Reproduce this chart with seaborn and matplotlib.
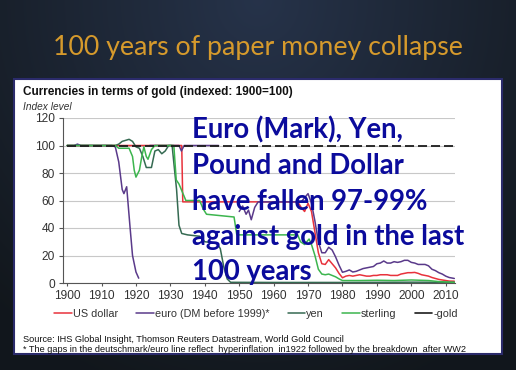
import numpy as np
import pandas as pd
import matplotlib
matplotlib.use("Agg")
import matplotlib.pyplot as plt
import seaborn as sns
from matplotlib.patches import Rectangle
from matplotlib.lines import Line2D

# ---------------- text ----------------
slide_title = "100 years of paper money collapse"
chart_title = "Currencies in terms of gold (indexed: 1900=100)"
y_caption = "Index level"
overlay_lines = ["Euro (Mark), Yen,", "Pound and Dollar", "have fallen 97-99%",
                 "against gold in the last", "100 years"]
source_lines = ["Source: IHS Global Insight, Thomson Reuters Datastream, World Gold Council",
                "* The gaps in the deutschmark/euro line reflect  hyperinflation  in1922 followed by the breakdown  after WW2"]
series_names = ["US dollar", "euro (DM before 1999)*", "yen", "sterling", "gold"]
legend_labels = ["US dollar", "euro (DM before 1999)*", "yen", "sterling", "-gold"]
x_ticks = list(range(1900, 2011, 10))
y_ticks = [0, 20, 40, 60, 80, 100, 120]

# ---------------- data ----------------
usd_years = [1900, 1910, 1920, 1930, 1933.3, 1933.6, 1950, 1967, 1968, 1969, 1970, 1971,
             1972, 1973, 1974, 1975, 1976, 1977, 1978, 1979, 1980, 1981, 1982, 1983, 1984,
             1985, 1986, 1987, 1988, 1989, 1990, 1991, 1992, 1993, 1994, 1995, 1996, 1997,
             1998, 1999, 2000, 2001, 2002, 2003, 2004, 2005, 2006, 2007, 2008, 2009, 2010,
             2011, 2012.5]
usd_values = [100, 100, 100, 100, 100, 59, 59, 59, 55, 52, 58, 52,
              37, 22, 14, 13.5, 17, 14, 11, 7, 3.8, 5, 5.5, 5, 5.5,
              6, 5.5, 5, 5, 5.5, 5.5, 6, 6, 6, 5.5, 5.5, 5.5, 6.5,
              7, 7.5, 7.5, 7.7, 7, 6, 5.5, 5, 4, 3.3, 2.6, 2.2, 1.8,
              1.4, 1.3]

euro_years = [1900, 1902, 1903, 1904, 1913, 1914, 1915, 1916, 1916.5, 1917.3, 1918.3, 1919,
              1920, 1920.8, 1922,
              1924, 1932.5, 1933.2, 1934, 1944, 1947,
              1950, 1951, 1952, 1952.7, 1953.5, 1954.5, 1955.5, 1968, 1969, 1970, 1971, 1972,
              1973, 1974, 1975, 1976, 1977, 1978, 1979, 1980, 1981, 1982, 1983, 1984, 1985,
              1986, 1987, 1988, 1989, 1990, 1991, 1992, 1993, 1994, 1995, 1996, 1997, 1998,
              1999, 2000, 2001, 2002, 2003, 2004, 2005, 2006, 2007, 2008, 2009, 2010, 2011,
              2012.5]
euro_values = [100, 100, 101, 100, 100, 99, 88, 68, 65, 70, 40, 20,
               8, 3.5, np.nan,
               100, 100, 96, 100, 100, np.nan,
               52, 56, 50, 53, 46, 55, 59, 59, 62, 65, 58, 45,
               30, 22, 22, 26, 24, 19, 13, 7.8, 8.5, 9.5, 8, 8.5, 9.5,
               10.5, 11, 11.5, 12, 14, 14.5, 16, 14.5, 14.5, 15.5, 15, 15.5, 16.5,
               16.5, 15, 14.5, 13.5, 13.5, 13.5, 12.5, 10, 9, 7.5, 6.5, 5, 4,
               3.3]

yen_years = [1900, 1914, 1915, 1916, 1918, 1919, 1920, 1921, 1922, 1923, 1924.5, 1925.5,
             1926.5, 1927.5, 1928.5, 1929.5, 1930.5, 1931.3, 1931.8, 1932.5, 1933.3, 1935,
             1938.5, 1940, 1943.5, 1944.5, 1945.5, 1946.5, 1947.5, 1960, 1980, 2000, 2012.5]
yen_values = [100, 100, 101, 103, 104.5, 103, 99, 98, 92, 84, 84, 96,
              97, 94, 96, 100, 100, 80, 68, 42, 36, 35,
              34, 30, 29, 25, 12, 3, 0.5, 0.4, 0.4, 0.6, 0.5]

gbp_years = [1900, 1914, 1915, 1918, 1919, 1919.5, 1920, 1921, 1921.7, 1922.3, 1923, 1923.5,
             1924.5, 1925.5, 1931, 1931.7, 1932.5, 1933.5, 1934.5, 1938.5, 1939.5, 1940.5,
             1948.5, 1949.3, 1967, 1967.8, 1969, 1970.3, 1971, 1972, 1973, 1974, 1975, 1976,
             1977, 1978, 1979, 1980, 1985, 1990, 1995, 2000, 2005, 2008, 2012.5]
gbp_values = [100, 100, 98, 98, 92, 82, 77, 82, 92, 99, 92, 90,
              97, 100, 100, 75, 72, 66, 60, 60, 54, 50,
              48, 35, 35, 30, 28, 32, 28, 20, 10, 6.5, 6, 6.5,
              5.5, 4.5, 3, 1.8, 1.8, 2, 1.8, 2.2, 1.8, 1, 0.5]

gold_years = [1900, 2012.5]
gold_values = [100, 100]

series_data = [(usd_years, usd_values), (euro_years, euro_values), (yen_years, yen_values),
               (gbp_years, gbp_values), (gold_years, gold_values)]
series_colors = ["#e8323c", "#5a3a8a", "#356a52", "#3cb54e", "#1c1c1c"]

# ---------------- style ----------------
sns.set_style("white")
plt.rcParams["font.family"] = ["Liberation Sans", "DejaVu Sans"]

W, H = 516, 370
fig = plt.figure(figsize=(W / 100, H / 100), dpi=100)


def fx(x):
    return x / W


def fy(y):
    return 1 - y / H


# slide background gradient
bg = fig.add_axes([0, 0, 1, 1], zorder=-10)
yy, xx = np.mgrid[0:1:200j, 0:1:300j]
d = np.clip(np.sqrt(((xx - 0.5) / 0.75) ** 2 + (yy / 1.1) ** 2), 0, 1)
c0 = np.array([0.15, 0.20, 0.29])
c1 = np.array([0.07, 0.09, 0.11])
img = c0[None, None, :] * (1 - d[..., None]) + c1[None, None, :] * d[..., None]
bg.imshow(img, aspect="auto", extent=[0, 1, 0, 1], origin="upper")
bg.set_axis_off()

# white panel
panel = Rectangle((fx(14), fy(354)), fx(502 - 14), (354 - 79) / H, transform=fig.transFigure,
                  facecolor="white", edgecolor="#2b2b6b", lw=1.5, zorder=-5)
fig.add_artist(panel)

# main axes
ax = fig.add_axes([fx(63), fy(283), fx(455 - 63), (283 - 118) / H])
ax.set_facecolor("none")

# long table
rows = []
for name, (yrs, vals) in zip(series_names, series_data):
    seg = 0
    for yv, vv in zip(yrs, vals):
        if vv is None or (isinstance(vv, float) and np.isnan(vv)):
            seg += 1
            continue
        rows.append({"series": name, "segment": f"{name}_{seg}", "year": yv, "value": vv})
df = pd.DataFrame(rows)

for i, (name, col) in enumerate(zip(series_names, series_colors)):
    sub = df[df["series"] == name]
    for segname, g in sub.groupby("segment", sort=False):
        ls = (0, (5, 2.2)) if name == "gold" else "-"
        sns.lineplot(data=g, x="year", y="value", ax=ax, color=col, lw=1.1 if name != "gold" else 1.3,
                     linestyle=ls, estimator=None, sort=False, zorder=2 + i, legend=False)

ax.set_xlim(1898.8, 2012.7)
ax.set_ylim(0, 120)
ax.set_xticks(x_ticks)
ax.set_yticks(y_ticks)
ax.set_xlabel("")
ax.set_ylabel("")
ax.yaxis.grid(True, color="#c8c8c8", lw=0.8)
ax.xaxis.grid(False)
for s in ["top", "right"]:
    ax.spines[s].set_visible(False)
for s in ["left", "bottom"]:
    ax.spines[s].set_color("#555555")
    ax.spines[s].set_linewidth(0.8)
ax.tick_params(axis="y", which="both", left=True, length=3, width=0.8, color="#555555",
               labelsize=8.6, labelcolor="#333333", pad=3)
ax.tick_params(axis="x", which="both", bottom=True, length=2, width=0.8, color="#555555",
               labelsize=8.6, labelcolor="#333333", pad=3)

# legend
handles = []
for name, col in zip(series_names, series_colors):
    if name == "gold":
        handles.append(Line2D([0], [0], color=col, lw=1.2, linestyle="-"))
    else:
        handles.append(Line2D([0], [0], color=col, lw=1.1, linestyle="-"))
leg = fig.legend(handles, legend_labels,
                 loc="center", bbox_to_anchor=(fx(256), fy(314)), ncol=5, frameon=False,
                 fontsize=7.8, handlelength=1.6, handletextpad=0.1, columnspacing=1.7,
                 borderpad=0.2)
for t in leg.get_texts():
    t.set_color("#333333")

# texts
fig.text(fx(258), fy(55), slide_title, ha="center", va="baseline", color="#d69a2c",
         fontsize=19.3, family=["Lato", "DejaVu Sans"])
fig.text(fx(23), fy(95), chart_title, ha="left", va="baseline", color="#111111",
         fontsize=8.5, fontweight="bold")
fig.text(fx(23), fy(110), y_caption, ha="left", va="baseline", color="#333333",
         fontsize=7.3, style="italic")
fig.text(fx(23), fy(342), source_lines[0], ha="left", va="baseline", color="#111111", fontsize=6.6)
fig.text(fx(23), fy(352), source_lines[1], ha="left", va="baseline", color="#111111", fontsize=6.6)

baselines = [138, 174, 210, 245, 280]
for line, b in zip(overlay_lines, baselines):
    fig.text(fx(192), fy(b), line, ha="left", va="baseline", color="#0b0b9c",
             fontsize=19.8, fontweight="bold", family=["Lato", "DejaVu Sans"], zorder=10)

fig.savefig("out.png", dpi=100)
